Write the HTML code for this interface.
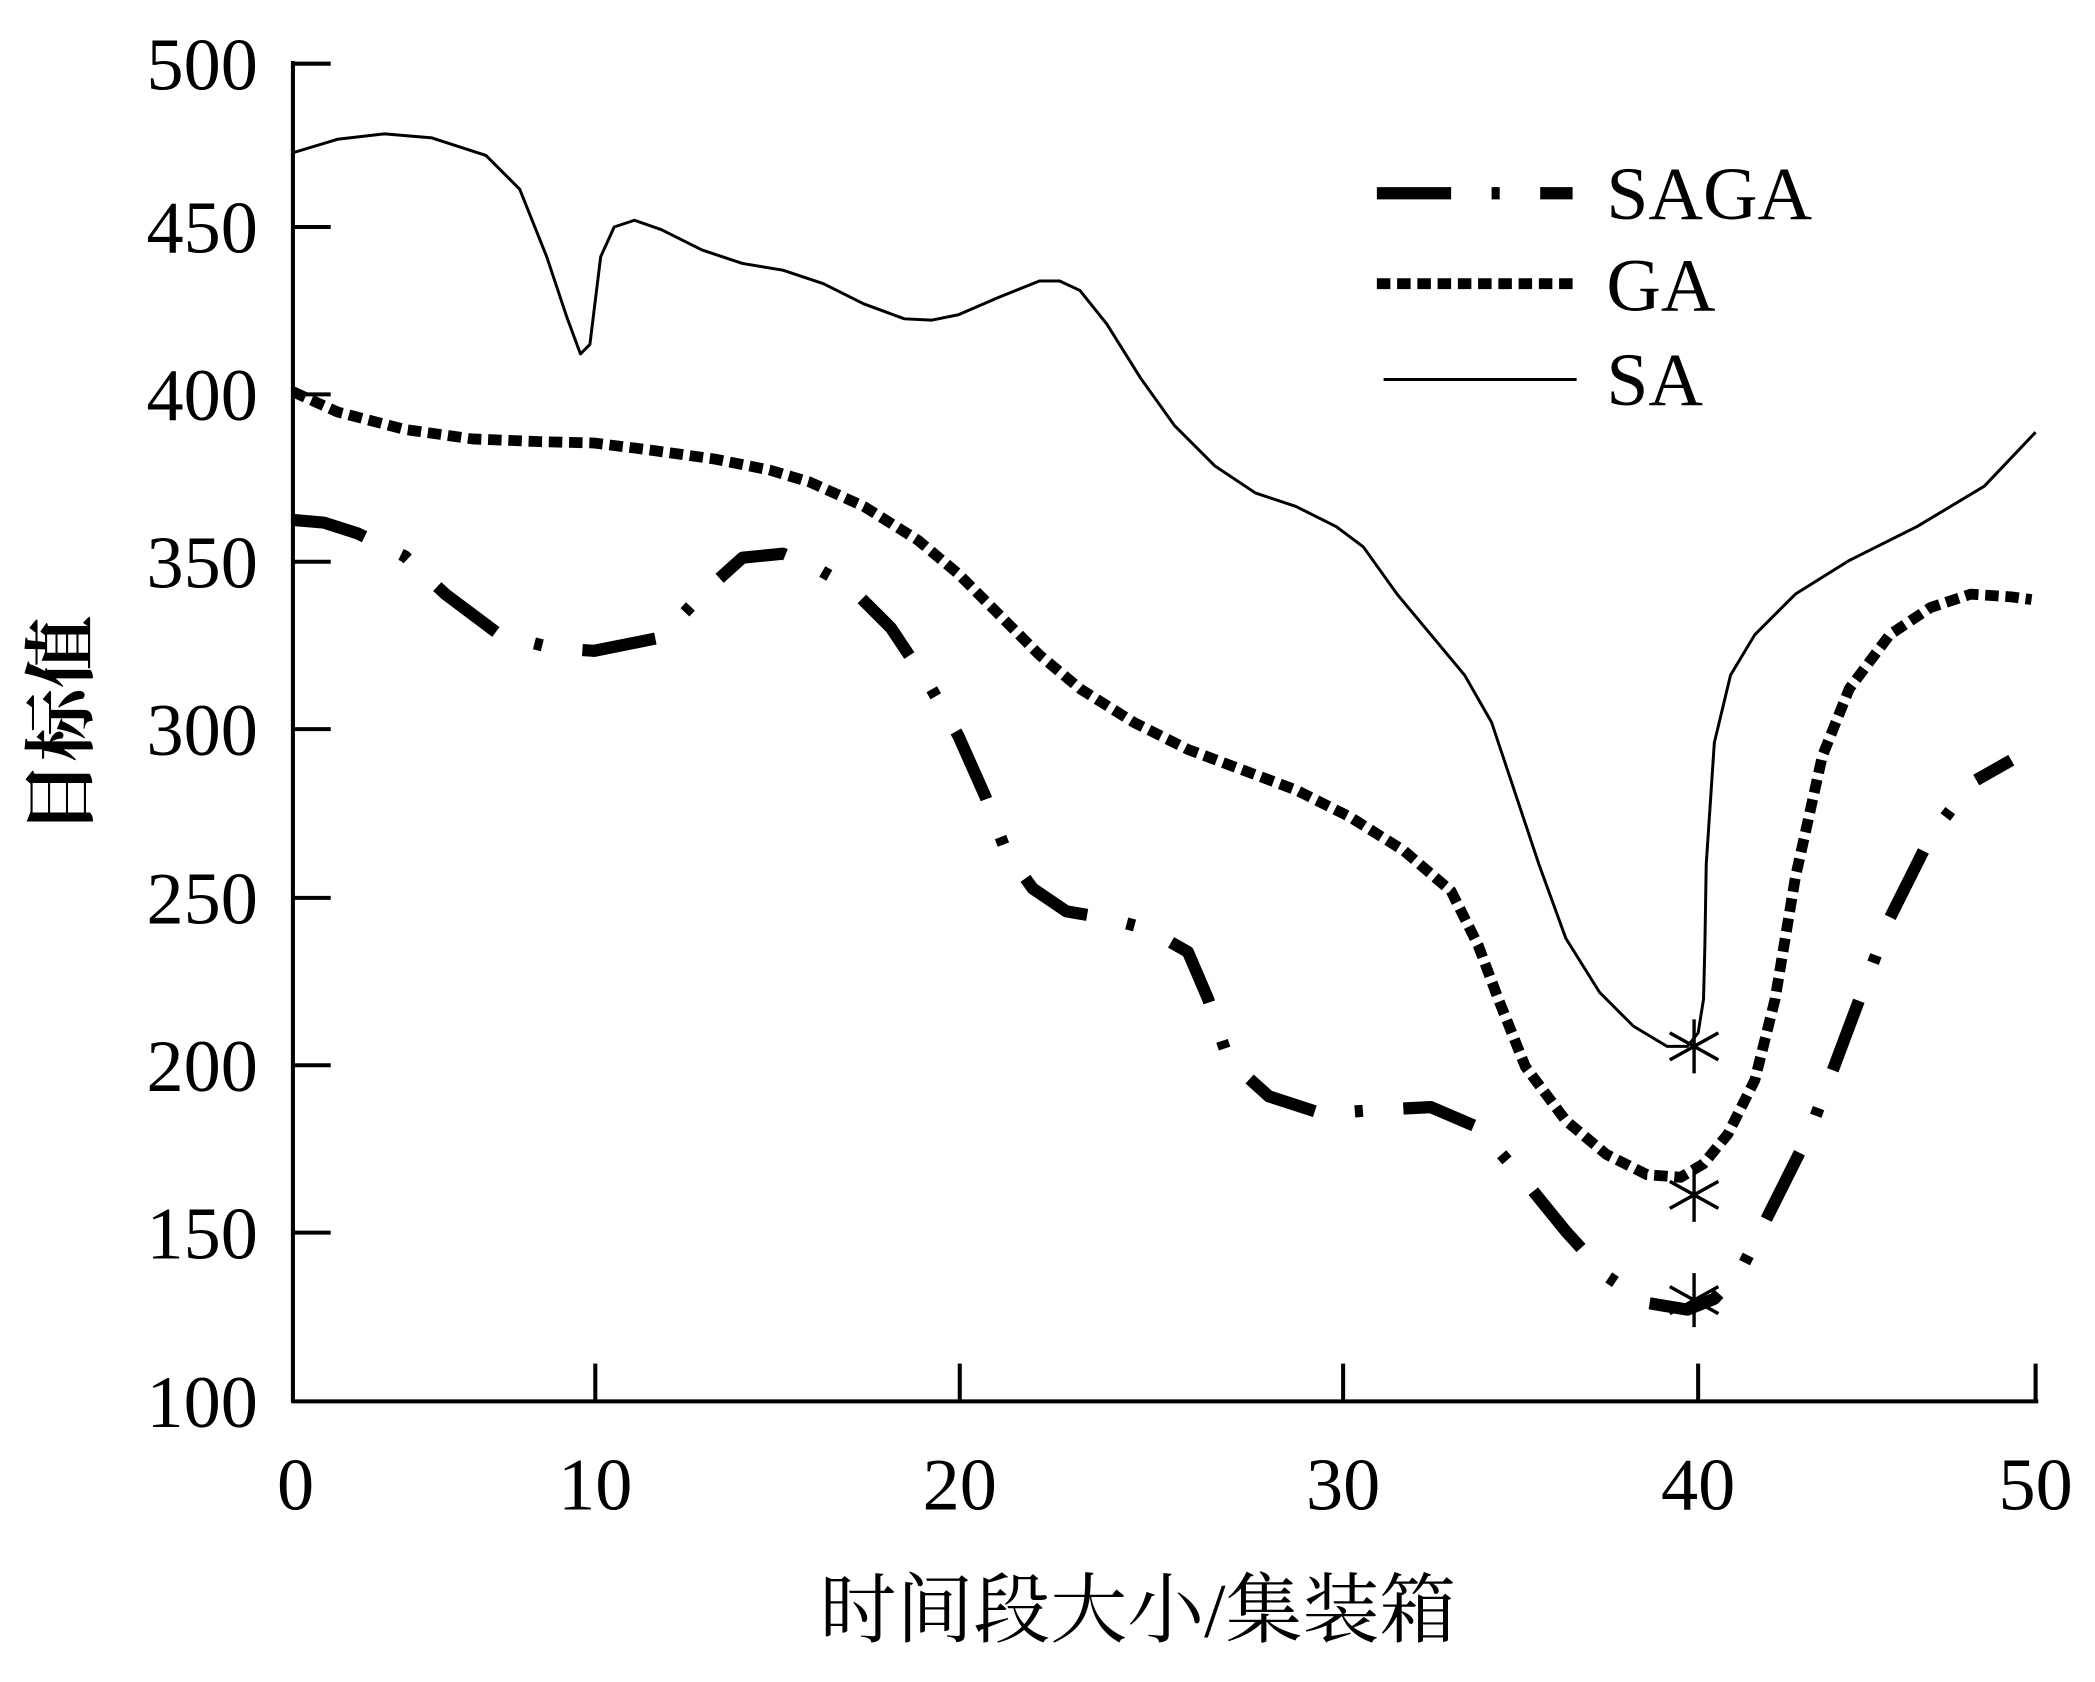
<!DOCTYPE html>
<html><head><meta charset="utf-8"><style>html,body{margin:0;padding:0;background:#fff}</style></head>
<body>
<svg width="2095" height="1677" viewBox="0 0 1552 1242" xmlns="http://www.w3.org/2000/svg">
<rect width="1552" height="1242" fill="#fff"/>
<g stroke="#000" stroke-width="3" fill="none">
<line x1="217" y1="45" x2="217" y2="1039"/>
<line x1="216" y1="1038" x2="1510" y2="1038"/>
<line x1="217" y1="47" x2="245" y2="47"/>
<line x1="217" y1="168" x2="245" y2="168"/>
<line x1="217" y1="292" x2="245" y2="292"/>
<line x1="217" y1="416" x2="245" y2="416"/>
<line x1="217" y1="540" x2="245" y2="540"/>
<line x1="217" y1="665" x2="245" y2="665"/>
<line x1="217" y1="789" x2="245" y2="789"/>
<line x1="217" y1="913" x2="245" y2="913"/>
<line x1="441" y1="1038" x2="441" y2="1010"/>
<line x1="711" y1="1038" x2="711" y2="1010"/>
<line x1="995" y1="1038" x2="995" y2="1010"/>
<line x1="1258" y1="1038" x2="1258" y2="1010"/>
<line x1="1508" y1="1038" x2="1508" y2="1010"/>
</g>
<g font-family="Liberation Serif, serif" font-size="55" text-anchor="end" fill="#000">
<text x="191" y="66">500</text><text x="191" y="187">450</text><text x="191" y="311">400</text>
<text x="191" y="435">350</text><text x="191" y="559">300</text><text x="191" y="684">250</text>
<text x="191" y="808">200</text><text x="191" y="932">150</text><text x="191" y="1057">100</text>
</g>
<g font-family="Liberation Serif, serif" font-size="55" text-anchor="middle" fill="#000">
<text x="219" y="1118">0</text><text x="441" y="1118">10</text><text x="711" y="1118">20</text>
<text x="995" y="1118">30</text><text x="1258" y="1118">40</text><text x="1508" y="1118">50</text>
</g>
<text x="843" y="1212" text-anchor="middle" font-family="Liberation Serif, 'Noto Serif CJK SC', serif" font-size="57">时间段大小/集装箱</text>
<text transform="translate(64,537) rotate(-90)" text-anchor="middle" font-family="'Noto Serif CJK SC', serif" font-weight="bold" font-size="54">目标值</text>
<polyline fill="none" stroke="#000" stroke-width="2.2" stroke-linejoin="round" points="217,113 250,103 285,99 320,102 360,115 385,140 405,190 420,235 430,262 437,255 445,190 455,168 470,163 490,170 520,185 550,195 580,200 610,210 640,225 670,236 690,237 710,233 740,220 770,208 785,208 800,215 820,240 845,280 870,315 900,345 930,365 960,375 990,390 1010,405 1035,440 1060,470 1085,500 1105,535 1120,580 1140,640 1160,695 1185,735 1210,760 1235,775 1250,775 1258,765 1262,740 1263,700 1264,640 1270,550 1282,500 1300,470 1330,440 1370,415 1420,390 1470,360 1508,320"/>
<polyline fill="none" stroke="#000" stroke-width="8" stroke-dasharray="10 5" stroke-linejoin="round" points="217,290 250,305 300,318 350,325 400,327 440,328 480,333 530,340 570,348 600,357 640,375 680,400 710,425 740,455 770,485 800,510 840,535 880,555 920,570 960,585 1000,605 1040,630 1075,660 1095,700 1110,740 1130,790 1160,830 1190,855 1220,870 1245,872 1262,862 1280,840 1300,800 1315,740 1330,650 1350,560 1370,510 1400,470 1430,450 1460,440 1490,442 1505,444"/>
<polyline fill="none" stroke="#000" stroke-width="9" stroke-dasharray="55 30 6 30" stroke-linejoin="round" points="217,385 240,387 265,395 300,412 330,440 370,470 410,480 440,482 490,472 520,440 550,413 580,410 600,418 630,435 660,465 690,510 710,545 730,590 745,630 765,658 790,675 820,680 850,688 880,705 895,740 910,785 940,812 980,825 1020,822 1060,820 1095,835 1130,875 1160,912 1190,945 1220,965 1250,970 1270,962 1290,940 1310,900 1340,840 1370,760 1400,680 1430,620 1460,580 1490,563"/>
<g stroke="#000" stroke-width="2.5">
<path d="M1255,755 V795 M1237,765 L1273,785 M1237,785 L1273,765"/>
<path d="M1255,865 V905 M1237,875 L1273,895 M1237,895 L1273,875"/>
<path d="M1255,943 V983 M1237,953 L1273,973 M1237,973 L1273,953"/>
</g>
<line x1="1020" y1="143" x2="1165" y2="143" stroke="#000" stroke-width="9" stroke-dasharray="55 30 6 30"/>
<line x1="1020" y1="210" x2="1165" y2="210" stroke="#000" stroke-width="8" stroke-dasharray="10 5"/>
<line x1="1025" y1="281" x2="1168" y2="281" stroke="#000" stroke-width="2.2"/>
<g font-family="Liberation Serif, serif" font-size="56" fill="#000">
<text x="1190" y="162">SAGA</text><text x="1190" y="230">GA</text><text x="1190" y="300">SA</text>
</g>
</svg>
</body></html>
